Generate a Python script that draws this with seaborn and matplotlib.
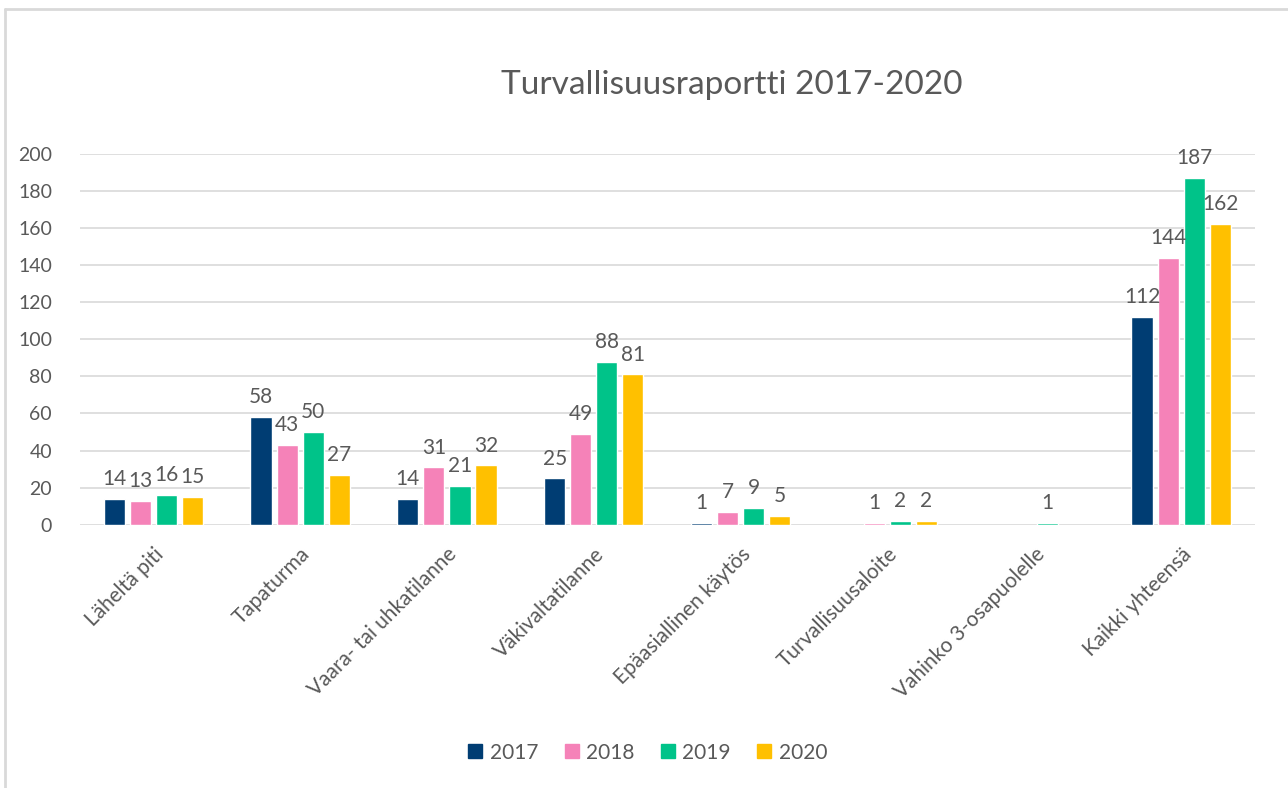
import numpy as np
import pandas as pd
import matplotlib
matplotlib.use('Agg')
import matplotlib.pyplot as plt
from matplotlib.lines import Line2D
import seaborn as sns

categories = ['Läheltä piti', 'Tapaturma', 'Vaara- tai uhkatilanne', 'Väkivaltatilanne',
              'Epäasiallinen käytös', 'Turvallisuusaloite', 'Vahinko 3-osapuolelle',
              'Kaikki yhteensä']
years = ['2017', '2018', '2019', '2020']
v2017 = [14, 58, 14, 25, 1, np.nan, np.nan, 112]
v2018 = [13, 43, 31, 49, 7, 1, np.nan, 144]
v2019 = [16, 50, 21, 88, 9, 2, 1, 187]
v2020 = [15, 27, 32, 81, 5, 2, np.nan, 162]
colors = ['#003D73', '#F582B8', '#00C389', '#FFC000']

sns.set_theme(style='white')
plt.rcParams['font.family'] = ['Lato', 'DejaVu Sans']
text_col = '#595959'

rows = []
for yr, vals in zip(years, [v2017, v2018, v2019, v2020]):
    for cat, v in zip(categories, vals):
        rows.append({'kategoria': cat, 'vuosi': yr, 'arvo': v})
df = pd.DataFrame(rows)

fig = plt.figure(figsize=(12.88, 7.88), dpi=100)
ax = fig.add_axes([0.062, 0.334, 0.912, 0.471])
sns.barplot(data=df, x='kategoria', y='arvo', hue='vuosi', order=categories,
            hue_order=years, palette=colors, width=0.71, gap=0.19,
            saturation=1, ax=ax, legend=False)

for cont in ax.containers:
    labels = ['' if np.isnan(v) else f'{v:.0f}' for v in cont.datavalues]
    ax.bar_label(cont, labels=labels, padding=7, fontsize=15, color=text_col)

ax.set_xlim(-0.5, 7.5)
ax.set_ylim(0, 200)
ax.set_yticks(range(0, 201, 20))
ax.yaxis.grid(True, color='#D9D9D9', linewidth=1.2)
ax.set_axisbelow(True)
for s in ax.spines.values():
    s.set_visible(False)
ax.set_xlabel('')
ax.set_ylabel('')
ax.tick_params(axis='y', labelsize=14, colors=text_col, length=0, pad=20)
ax.tick_params(axis='x', labelsize=15, colors=text_col, length=0, pad=14)
plt.setp(ax.get_xticklabels(), rotation=45, ha='right', rotation_mode='anchor')

fig.text(0.568, 0.892, 'Turvallisuusraportti 2017-2020', ha='center', va='center',
         fontsize=24, color=text_col)

handles = [Line2D([], [], marker='s', linestyle='', markersize=10, color=c) for c in colors]
fig.legend(handles, years, loc='center', bbox_to_anchor=(0.5, 0.045), ncol=4,
           frameon=False, fontsize=15, labelcolor=text_col, handletextpad=0.0,
           columnspacing=0.9, handlelength=1.4)

# chart area border
fig.add_artist(Line2D([0.0035, 0.0035], [0, 0.988], color='#D9D9D9', lw=2,
                      transform=fig.transFigure))
fig.add_artist(Line2D([0.0035, 1], [0.988, 0.988], color='#D9D9D9', lw=2,
                      transform=fig.transFigure))

fig.savefig('out.png', dpi=100)
plt.close(fig)
